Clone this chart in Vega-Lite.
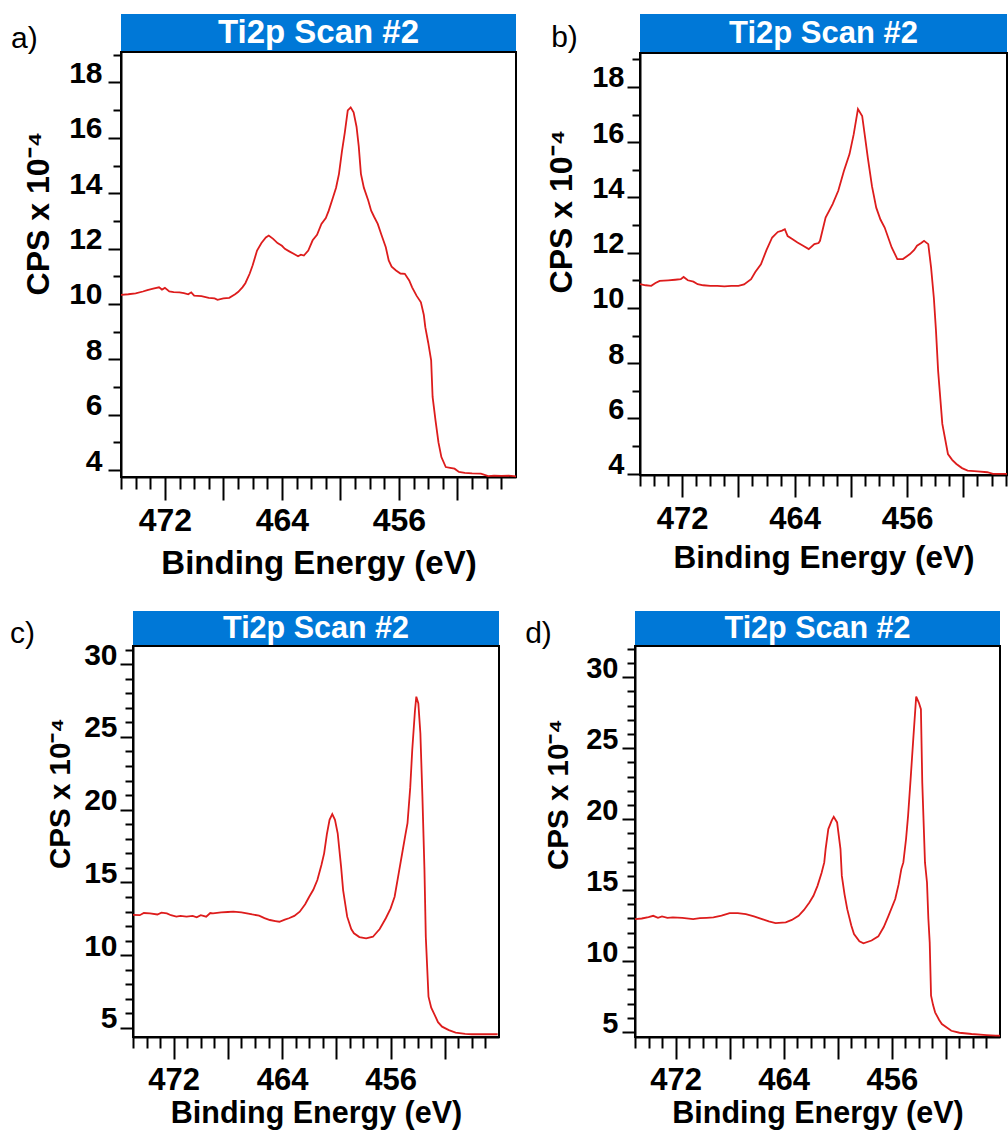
{
  "$schema": "https://vega.github.io/schema/vega-lite/v6.json",
  "background": "white",
  "padding": {"left": 9, "top": 14, "right": 0, "bottom": 0},
  "config": {
    "font": "Liberation Sans",
    "view": {"stroke": "black", "strokeWidth": 2},
    "axis": {
      "domainColor": "black", "domainWidth": 2, "tickColor": "black", "tickWidth": 2,
      "labelColor": "black", "titleColor": "black", "labelFont": "Liberation Sans", "titleFont": "Liberation Sans",
      "labelFontWeight": "bold", "titleFontWeight": "bold", "grid": false, "labelOverlap": false, "labelFlush": false
    }
  },
  "datasets": {
    "a": [
      {"be": 475.0, "cps": 10.33}, {"be": 474.5, "cps": 10.35}, {"be": 474.0, "cps": 10.38}, {"be": 473.5, "cps": 10.45},
      {"be": 473.2, "cps": 10.5}, {"be": 472.8, "cps": 10.55}, {"be": 472.4, "cps": 10.6}, {"be": 472.2, "cps": 10.52},
      {"be": 472.0, "cps": 10.58}, {"be": 471.7, "cps": 10.45}, {"be": 471.4, "cps": 10.43}, {"be": 471.0, "cps": 10.42},
      {"be": 470.7, "cps": 10.39}, {"be": 470.4, "cps": 10.35}, {"be": 470.2, "cps": 10.42}, {"be": 470.0, "cps": 10.3},
      {"be": 469.5, "cps": 10.28}, {"be": 469.0, "cps": 10.22}, {"be": 468.6, "cps": 10.2}, {"be": 468.4, "cps": 10.15},
      {"be": 468.0, "cps": 10.2}, {"be": 467.6, "cps": 10.22}, {"be": 467.2, "cps": 10.35}, {"be": 467.0, "cps": 10.43},
      {"be": 466.7, "cps": 10.6}, {"be": 466.5, "cps": 10.75}, {"be": 466.2, "cps": 11.1}, {"be": 466.0, "cps": 11.4},
      {"be": 465.7, "cps": 11.93}, {"be": 465.4, "cps": 12.2}, {"be": 465.1, "cps": 12.4}, {"be": 464.9, "cps": 12.47},
      {"be": 464.6, "cps": 12.35}, {"be": 464.3, "cps": 12.2}, {"be": 464.0, "cps": 12.1}, {"be": 463.8, "cps": 11.99},
      {"be": 463.5, "cps": 11.9}, {"be": 463.2, "cps": 11.81}, {"be": 462.9, "cps": 11.72}, {"be": 462.7, "cps": 11.78},
      {"be": 462.5, "cps": 11.75}, {"be": 462.2, "cps": 11.93}, {"be": 461.9, "cps": 12.3}, {"be": 461.6, "cps": 12.5},
      {"be": 461.3, "cps": 12.89}, {"be": 461.0, "cps": 13.1}, {"be": 460.8, "cps": 13.37}, {"be": 460.5, "cps": 13.86},
      {"be": 460.3, "cps": 14.2}, {"be": 460.1, "cps": 14.7}, {"be": 459.9, "cps": 15.5}, {"be": 459.7, "cps": 16.2},
      {"be": 459.5, "cps": 16.99}, {"be": 459.3, "cps": 17.1}, {"be": 459.1, "cps": 16.92}, {"be": 458.9, "cps": 16.4},
      {"be": 458.75, "cps": 15.7}, {"be": 458.6, "cps": 14.7}, {"be": 458.4, "cps": 14.2}, {"be": 458.1, "cps": 13.74},
      {"be": 457.9, "cps": 13.37}, {"be": 457.7, "cps": 13.15}, {"be": 457.45, "cps": 12.89}, {"be": 457.2, "cps": 12.5},
      {"be": 456.9, "cps": 12.05}, {"be": 456.7, "cps": 11.57}, {"be": 456.5, "cps": 11.35}, {"be": 456.2, "cps": 11.21},
      {"be": 455.9, "cps": 11.1}, {"be": 455.6, "cps": 11.09}, {"be": 455.3, "cps": 10.85}, {"be": 455.1, "cps": 10.6},
      {"be": 454.8, "cps": 10.3}, {"be": 454.5, "cps": 10.06}, {"be": 454.3, "cps": 9.6}, {"be": 454.2, "cps": 9.16},
      {"be": 454.0, "cps": 8.6}, {"be": 453.8, "cps": 7.96}, {"be": 453.7, "cps": 6.64}, {"be": 453.5, "cps": 5.79},
      {"be": 453.3, "cps": 5.0}, {"be": 453.1, "cps": 4.47}, {"be": 452.8, "cps": 4.11}, {"be": 452.5, "cps": 4.08},
      {"be": 452.2, "cps": 4.05}, {"be": 451.9, "cps": 3.93}, {"be": 451.5, "cps": 3.9}, {"be": 451.0, "cps": 3.88},
      {"be": 450.4, "cps": 3.87}, {"be": 449.9, "cps": 3.78}, {"be": 449.5, "cps": 3.8}, {"be": 449.0, "cps": 3.79},
      {"be": 448.5, "cps": 3.8}, {"be": 448.0, "cps": 3.77}
    ],
    "b": [
      {"be": 475.0, "cps": 10.86}, {"be": 474.6, "cps": 10.82}, {"be": 474.2, "cps": 10.8}, {"be": 473.9, "cps": 10.9},
      {"be": 473.6, "cps": 10.98}, {"be": 473.0, "cps": 11.0}, {"be": 472.5, "cps": 11.02}, {"be": 472.1, "cps": 11.04},
      {"be": 471.9, "cps": 11.12}, {"be": 471.6, "cps": 11.0}, {"be": 471.2, "cps": 10.95}, {"be": 470.9, "cps": 10.86},
      {"be": 470.5, "cps": 10.82}, {"be": 470.0, "cps": 10.8}, {"be": 469.5, "cps": 10.8}, {"be": 469.0, "cps": 10.78},
      {"be": 468.5, "cps": 10.8}, {"be": 468.0, "cps": 10.8}, {"be": 467.6, "cps": 10.85}, {"be": 467.1, "cps": 11.04},
      {"be": 466.8, "cps": 11.3}, {"be": 466.4, "cps": 11.58}, {"be": 466.0, "cps": 12.1}, {"be": 465.6, "cps": 12.55},
      {"be": 465.2, "cps": 12.75}, {"be": 464.9, "cps": 12.8}, {"be": 464.7, "cps": 12.85}, {"be": 464.5, "cps": 12.6},
      {"be": 464.2, "cps": 12.5}, {"be": 463.8, "cps": 12.37}, {"be": 463.4, "cps": 12.25}, {"be": 463.0, "cps": 12.13},
      {"be": 462.6, "cps": 12.31}, {"be": 462.3, "cps": 12.35}, {"be": 462.2, "cps": 12.43}, {"be": 461.8, "cps": 13.27},
      {"be": 461.3, "cps": 13.76}, {"be": 460.9, "cps": 14.24}, {"be": 460.5, "cps": 14.96}, {"be": 460.1, "cps": 15.57},
      {"be": 459.8, "cps": 16.29}, {"be": 459.5, "cps": 17.2}, {"be": 459.2, "cps": 16.95}, {"be": 459.0, "cps": 16.2},
      {"be": 458.8, "cps": 15.44}, {"be": 458.5, "cps": 14.4}, {"be": 458.2, "cps": 13.63}, {"be": 457.9, "cps": 13.2},
      {"be": 457.6, "cps": 12.91}, {"be": 457.1, "cps": 12.19}, {"be": 456.7, "cps": 11.77}, {"be": 456.3, "cps": 11.77},
      {"be": 455.8, "cps": 11.95}, {"be": 455.5, "cps": 12.1}, {"be": 455.3, "cps": 12.25}, {"be": 455.0, "cps": 12.35},
      {"be": 454.8, "cps": 12.43}, {"be": 454.5, "cps": 12.31}, {"be": 454.3, "cps": 11.47}, {"be": 454.1, "cps": 10.35},
      {"be": 453.95, "cps": 9.17}, {"be": 453.8, "cps": 7.73}, {"be": 453.5, "cps": 5.8}, {"be": 453.1, "cps": 4.71},
      {"be": 452.8, "cps": 4.5}, {"be": 452.5, "cps": 4.35}, {"be": 452.1, "cps": 4.2}, {"be": 451.7, "cps": 4.11},
      {"be": 451.0, "cps": 4.08}, {"be": 450.3, "cps": 4.05}, {"be": 449.9, "cps": 3.99}, {"be": 448.9, "cps": 3.99}
    ],
    "c": [
      {"be": 475.0, "cps": 12.77}, {"be": 474.5, "cps": 12.75}, {"be": 474.2, "cps": 12.9}, {"be": 473.75, "cps": 12.88},
      {"be": 473.2, "cps": 12.8}, {"be": 472.9, "cps": 12.92}, {"be": 472.5, "cps": 12.88}, {"be": 472.2, "cps": 12.75},
      {"be": 471.8, "cps": 12.65}, {"be": 471.5, "cps": 12.7}, {"be": 471.05, "cps": 12.65}, {"be": 470.6, "cps": 12.7},
      {"be": 470.3, "cps": 12.6}, {"be": 470.0, "cps": 12.75}, {"be": 469.6, "cps": 12.65}, {"be": 469.3, "cps": 12.9},
      {"be": 469.1, "cps": 12.88}, {"be": 468.5, "cps": 12.95}, {"be": 468.0, "cps": 12.97}, {"be": 467.6, "cps": 12.99},
      {"be": 467.0, "cps": 12.95}, {"be": 466.6, "cps": 12.88}, {"be": 466.2, "cps": 12.8}, {"be": 465.7, "cps": 12.72},
      {"be": 465.3, "cps": 12.55}, {"be": 464.9, "cps": 12.42}, {"be": 464.5, "cps": 12.35}, {"be": 464.2, "cps": 12.3},
      {"be": 463.8, "cps": 12.45}, {"be": 463.5, "cps": 12.54}, {"be": 463.1, "cps": 12.7}, {"be": 462.7, "cps": 12.99},
      {"be": 462.3, "cps": 13.5}, {"be": 462.0, "cps": 14.02}, {"be": 461.7, "cps": 14.5}, {"be": 461.4, "cps": 15.17},
      {"be": 461.1, "cps": 16.2}, {"be": 460.9, "cps": 17.0}, {"be": 460.7, "cps": 18.3}, {"be": 460.5, "cps": 19.3},
      {"be": 460.3, "cps": 19.7}, {"be": 460.1, "cps": 19.3}, {"be": 459.9, "cps": 18.38}, {"be": 459.65, "cps": 16.09},
      {"be": 459.5, "cps": 14.48}, {"be": 459.2, "cps": 12.65}, {"be": 458.9, "cps": 11.8}, {"be": 458.7, "cps": 11.51},
      {"be": 458.3, "cps": 11.25}, {"be": 457.8, "cps": 11.16}, {"be": 457.3, "cps": 11.27}, {"be": 456.8, "cps": 11.8},
      {"be": 456.35, "cps": 12.54}, {"be": 456.0, "cps": 13.2}, {"be": 455.7, "cps": 14.02}, {"be": 455.4, "cps": 15.63},
      {"be": 455.1, "cps": 17.23}, {"be": 454.9, "cps": 18.3}, {"be": 454.75, "cps": 19.07}, {"be": 454.55, "cps": 21.5},
      {"be": 454.4, "cps": 24.1}, {"be": 454.2, "cps": 26.8}, {"be": 454.1, "cps": 27.77}, {"be": 453.95, "cps": 27.3},
      {"be": 453.8, "cps": 25.25}, {"be": 453.65, "cps": 20.9}, {"be": 453.5, "cps": 15.9}, {"be": 453.4, "cps": 11.27},
      {"be": 453.2, "cps": 7.15}, {"be": 453.0, "cps": 6.4}, {"be": 452.8, "cps": 6.01}, {"be": 452.5, "cps": 5.4},
      {"be": 452.2, "cps": 5.09}, {"be": 451.7, "cps": 4.85}, {"be": 451.2, "cps": 4.68}, {"be": 450.5, "cps": 4.6},
      {"be": 450.0, "cps": 4.57}, {"be": 449.0, "cps": 4.57}, {"be": 448.1, "cps": 4.57}
    ],
    "d": [
      {"be": 475.0, "cps": 12.96}, {"be": 474.5, "cps": 13.0}, {"be": 474.0, "cps": 13.1}, {"be": 473.65, "cps": 13.19},
      {"be": 473.3, "cps": 13.05}, {"be": 473.0, "cps": 13.15}, {"be": 472.6, "cps": 13.05}, {"be": 472.2, "cps": 13.08},
      {"be": 471.5, "cps": 13.05}, {"be": 470.7, "cps": 12.96}, {"be": 470.2, "cps": 13.02}, {"be": 469.7, "cps": 13.05},
      {"be": 469.2, "cps": 13.08}, {"be": 468.6, "cps": 13.2}, {"be": 468.0, "cps": 13.38}, {"be": 467.4, "cps": 13.38},
      {"be": 466.8, "cps": 13.31}, {"be": 466.2, "cps": 13.15}, {"be": 465.6, "cps": 12.96}, {"be": 465.1, "cps": 12.8},
      {"be": 464.6, "cps": 12.68}, {"be": 463.85, "cps": 12.73}, {"be": 463.4, "cps": 12.9}, {"be": 462.9, "cps": 13.19},
      {"be": 462.5, "cps": 13.6}, {"be": 462.1, "cps": 14.13}, {"be": 461.8, "cps": 14.6}, {"be": 461.5, "cps": 15.3},
      {"be": 461.2, "cps": 16.2}, {"be": 461.0, "cps": 16.95}, {"be": 460.9, "cps": 17.89}, {"be": 460.7, "cps": 19.3},
      {"be": 460.45, "cps": 19.9}, {"be": 460.3, "cps": 20.16}, {"be": 460.05, "cps": 19.77}, {"be": 459.8, "cps": 17.89},
      {"be": 459.7, "cps": 16.0}, {"be": 459.5, "cps": 14.7}, {"be": 459.3, "cps": 13.66}, {"be": 459.0, "cps": 12.5},
      {"be": 458.8, "cps": 11.9}, {"be": 458.4, "cps": 11.4}, {"be": 458.1, "cps": 11.25}, {"be": 457.5, "cps": 11.45},
      {"be": 457.0, "cps": 11.74}, {"be": 456.6, "cps": 12.4}, {"be": 456.25, "cps": 13.19}, {"be": 455.75, "cps": 14.37},
      {"be": 455.5, "cps": 15.4}, {"be": 455.3, "cps": 16.48}, {"be": 455.15, "cps": 16.95}, {"be": 454.95, "cps": 18.6},
      {"be": 454.8, "cps": 20.23}, {"be": 454.6, "cps": 23.0}, {"be": 454.4, "cps": 25.87}, {"be": 454.2, "cps": 28.64},
      {"be": 454.0, "cps": 28.2}, {"be": 453.85, "cps": 27.75}, {"be": 453.75, "cps": 22.58}, {"be": 453.55, "cps": 16.95},
      {"be": 453.4, "cps": 15.54}, {"be": 453.3, "cps": 13.0}, {"be": 453.2, "cps": 11.32}, {"be": 453.1, "cps": 7.56},
      {"be": 452.95, "cps": 6.9}, {"be": 452.8, "cps": 6.39}, {"be": 452.5, "cps": 5.85}, {"be": 452.3, "cps": 5.56},
      {"be": 451.6, "cps": 5.09}, {"be": 451.0, "cps": 4.95}, {"be": 450.1, "cps": 4.86}, {"be": 449.0, "cps": 4.78},
      {"be": 448.3, "cps": 4.74}, {"be": 448.0, "cps": 4.74}
    ]
  },
  "spacing": 30,
  "vconcat": [
    {
      "spacing": 0,
      "hconcat": [
        {"width": 1, "height": 1, "view": {"stroke": null}, "data": {"values": []}, "mark": "text", "encoding": {}},
        {
          "spacing": 23,
          "hconcat": [
            {
              "spacing": 0, "bounds": "flush",
              "vconcat": [
                {
                  "width": 395, "height": 38,
                  "view": {"fill": "#0078d7", "stroke": null},
                  "layer": [
                    {"data": {"values": [{"t": "Ti2p Scan #2"}]},
                     "mark": {"type": "text", "color": "white", "fontSize": 33, "fontWeight": "bold", "font": "Liberation Sans", "baseline": "middle"},
                     "encoding": {"text": {"field": "t"}}},
                    {"data": {"values": [{"t": "a)", "be": 481.61}]},
                     "mark": {"type": "text", "color": "black", "fontSize": 30, "font": "Liberation Sans", "baseline": "middle", "align": "center", "dy": 6},
                     "encoding": {"text": {"field": "t"}, "x": {"field": "be", "type": "quantitative", "scale": {"domain": [448, 475], "reverse": true, "nice": false, "zero": false}, "axis": null}}}
                  ]
                },
                {
                  "width": 395, "height": 425,
                  "data": {"name": "a"},
                  "mark": {"type": "line", "color": "#dd1c1c", "strokeWidth": 1.8},
                  "encoding": {
                    "x": {"field": "be", "type": "quantitative", "scale": {"domain": [448, 475], "reverse": true, "nice": false, "zero": false},
                      "axis": {"title": "Binding Energy (eV)", "values": [475,474,473,472,471,470,469,468,467,466,465,464,463,462,461,460,459,458,457,456,455,454,453,452,451,450,449], "format": "d",
                        "labelExpr": "datum.value % 8 === 0 ? datum.label : ''",
                        "tickSize": {"condition": {"test": "datum.value % 4 === 0", "value": 23}, "value": 12},
                        "labelPadding": 5, "labelFontSize": 32, "titleFontSize": 33, "titlePadding": 11}},
                    "y": {"field": "cps", "type": "quantitative", "scale": {"domain": [3.75, 19.1], "nice": false, "zero": false},
                      "axis": {"title": "CPS x 10\u207b\u2074", "values": [4,5,6,7,8,9,10,11,12,13,14,15,16,17,18,19], "format": "d",
                        "labelExpr": "datum.value % 2 === 0 ? datum.label : ''",
                        "tickSize": {"condition": {"test": "datum.value % 2 === 0", "value": 13}, "value": 8},
                        "labelBaseline": "alphabetic", "labelPadding": 6, "labelFontSize": 30, "titleFontSize": 32, "titlePadding": 13, "titleY": 161}}
                  }
                }
              ]
            },
            {
              "spacing": 0, "bounds": "flush",
              "vconcat": [
                {
                  "width": 367, "height": 39,
                  "view": {"fill": "#0078d7", "stroke": null},
                  "layer": [
                    {"data": {"values": [{"t": "Ti2p Scan #2"}]},
                     "mark": {"type": "text", "color": "white", "fontSize": 31, "fontWeight": "bold", "font": "Liberation Sans", "baseline": "middle"},
                     "encoding": {"text": {"field": "t"}}},
                    {"data": {"values": [{"t": "b)", "be": 480.37}]},
                     "mark": {"type": "text", "color": "black", "fontSize": 30, "font": "Liberation Sans", "baseline": "middle", "align": "center", "dy": 4},
                     "encoding": {"text": {"field": "t"}, "x": {"field": "be", "type": "quantitative", "scale": {"domain": [448.9, 475], "reverse": true, "nice": false, "zero": false}, "axis": null}}}
                  ]
                },
                {
                  "width": 367, "height": 422,
                  "data": {"name": "b"},
                  "mark": {"type": "line", "color": "#dd1c1c", "strokeWidth": 1.8},
                  "encoding": {
                    "x": {"field": "be", "type": "quantitative", "scale": {"domain": [448.9, 475], "reverse": true, "nice": false, "zero": false},
                      "axis": {"title": "Binding Energy (eV)", "values": [475,474,473,472,471,470,469,468,467,466,465,464,463,462,461,460,459,458,457,456,455,454,453,452,451,450,449], "format": "d",
                        "labelExpr": "datum.value % 8 === 0 ? datum.label : ''",
                        "tickSize": {"condition": {"test": "datum.value % 4 === 0", "value": 22}, "value": 11},
                        "labelPadding": 7, "labelFontSize": 31, "titleFontSize": 31.5, "titlePadding": 8}},
                    "y": {"field": "cps", "type": "quantitative", "scale": {"domain": [3.95, 19.23], "nice": false, "zero": false},
                      "axis": {"title": "CPS x 10\u207b\u2074", "values": [4,5,6,7,8,9,10,11,12,13,14,15,16,17,18,19], "format": "d",
                        "labelExpr": "datum.value % 2 === 0 ? datum.label : ''",
                        "tickSize": {"condition": {"test": "datum.value % 2 === 0", "value": 13}, "value": 8},
                        "labelBaseline": "alphabetic", "labelPadding": 3, "labelFontSize": 29, "titleFontSize": 32, "titlePadding": 13, "titleY": 158}}
                  }
                }
              ]
            }
          ]
        }
      ]
    },
    {
      "spacing": 0,
      "hconcat": [
        {"width": 1, "height": 1, "view": {"stroke": null}, "data": {"values": []}, "mark": "text", "encoding": {}},
        {
          "spacing": 22,
          "hconcat": [
            {
              "spacing": 0, "bounds": "flush",
              "vconcat": [
                {
                  "width": 366, "height": 35,
                  "view": {"fill": "#0078d7", "stroke": null},
                  "layer": [
                    {"data": {"values": [{"t": "Ti2p Scan #2"}]},
                     "mark": {"type": "text", "color": "white", "fontSize": 30.5, "fontWeight": "bold", "font": "Liberation Sans", "baseline": "middle"},
                     "encoding": {"text": {"field": "t"}}},
                    {"data": {"values": [{"t": "c)", "be": 483.15}]},
                     "mark": {"type": "text", "color": "black", "fontSize": 30, "font": "Liberation Sans", "baseline": "middle", "align": "center", "dy": 5},
                     "encoding": {"text": {"field": "t"}, "x": {"field": "be", "type": "quantitative", "scale": {"domain": [448, 475], "reverse": true, "nice": false, "zero": false}, "axis": null}}}
                  ]
                },
                {
                  "width": 366, "height": 391,
                  "data": {"name": "c"},
                  "mark": {"type": "line", "color": "#dd1c1c", "strokeWidth": 1.8},
                  "encoding": {
                    "x": {"field": "be", "type": "quantitative", "scale": {"domain": [448, 475], "reverse": true, "nice": false, "zero": false},
                      "axis": {"title": "Binding Energy (eV)", "values": [475,474,473,472,471,470,469,468,467,466,465,464,463,462,461,460,459,458,457,456,455,454,453,452,451,450,449], "format": "d",
                        "labelExpr": "datum.value % 8 === 0 ? datum.label : ''",
                        "tickSize": {"condition": {"test": "datum.value % 4 === 0", "value": 22}, "value": 11},
                        "labelPadding": 6, "labelFontSize": 31, "titleFontSize": 30.5, "titlePadding": 3}},
                    "y": {"field": "cps", "type": "quantitative", "scale": {"domain": [4.38, 31.25], "nice": false, "zero": false},
                      "axis": {"title": "CPS x 10\u207b\u2074", "values": [5,6,7,8,9,10,11,12,13,14,15,16,17,18,19,20,21,22,23,24,25,26,27,28,29,30,31], "format": "d",
                        "labelExpr": "datum.value % 5 === 0 ? datum.label : ''",
                        "tickSize": {"condition": {"test": "datum.value % 5 === 0", "value": 13}, "value": 8},
                        "labelBaseline": "alphabetic", "labelPadding": 3, "labelFontSize": 30, "titleFontSize": 29.5, "titlePadding": 8, "titleY": 147}}
                  }
                }
              ]
            },
            {
              "spacing": 0, "bounds": "flush",
              "vconcat": [
                {
                  "width": 365, "height": 35,
                  "view": {"fill": "#0078d7", "stroke": null},
                  "layer": [
                    {"data": {"values": [{"t": "Ti2p Scan #2"}]},
                     "mark": {"type": "text", "color": "white", "fontSize": 30.5, "fontWeight": "bold", "font": "Liberation Sans", "baseline": "middle"},
                     "encoding": {"text": {"field": "t"}}},
                    {"data": {"values": [{"t": "d)", "be": 482.14}]},
                     "mark": {"type": "text", "color": "black", "fontSize": 30, "font": "Liberation Sans", "baseline": "middle", "align": "center", "dy": 5.5},
                     "encoding": {"text": {"field": "t"}, "x": {"field": "be", "type": "quantitative", "scale": {"domain": [448, 475], "reverse": true, "nice": false, "zero": false}, "axis": null}}}
                  ]
                },
                {
                  "width": 365, "height": 391,
                  "data": {"name": "d"},
                  "mark": {"type": "line", "color": "#dd1c1c", "strokeWidth": 1.8},
                  "encoding": {
                    "x": {"field": "be", "type": "quantitative", "scale": {"domain": [448, 475], "reverse": true, "nice": false, "zero": false},
                      "axis": {"title": "Binding Energy (eV)", "values": [475,474,473,472,471,470,469,468,467,466,465,464,463,462,461,460,459,458,457,456,455,454,453,452,451,450,449], "format": "d",
                        "labelExpr": "datum.value % 8 === 0 ? datum.label : ''",
                        "tickSize": {"condition": {"test": "datum.value % 4 === 0", "value": 22}, "value": 11},
                        "labelPadding": 6, "labelFontSize": 31, "titleFontSize": 30.5, "titlePadding": 3}},
                    "y": {"field": "cps", "type": "quantitative", "scale": {"domain": [4.65, 32.2], "nice": false, "zero": false},
                      "axis": {"title": "CPS x 10\u207b\u2074", "values": [5,6,7,8,9,10,11,12,13,14,15,16,17,18,19,20,21,22,23,24,25,26,27,28,29,30,31,32], "format": "d",
                        "labelExpr": "datum.value % 5 === 0 ? datum.label : ''",
                        "tickSize": {"condition": {"test": "datum.value % 5 === 0", "value": 13}, "value": 8},
                        "labelBaseline": "alphabetic", "labelPadding": 4, "labelFontSize": 29, "titleFontSize": 29.5, "titlePadding": 12, "titleY": 148}}
                  }
                }
              ]
            }
          ]
        }
      ]
    }
  ]
}
